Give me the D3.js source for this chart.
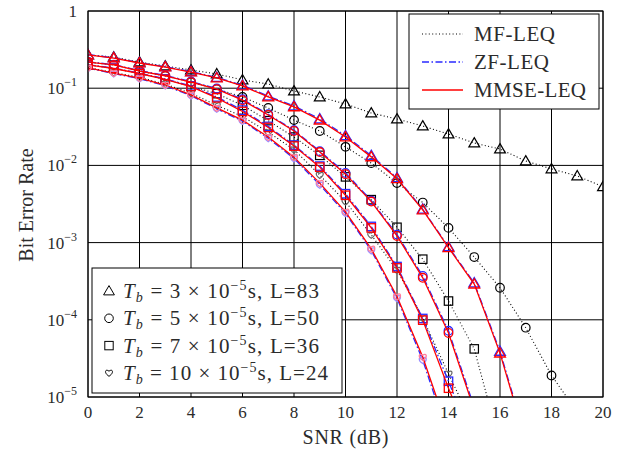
<!DOCTYPE html>
<html>
<head>
<meta charset="utf-8">
<script src="https://cdn.jsdelivr.net/npm/d3@7"></script>
<style>
  body { margin: 0; background: #fff; }
  svg { display: block; }
</style>
</head>
<body>
<div id="chart"></div>
<script>
// SNR axis values (dB)
const snr = [0, 1, 2, 3, 4, 5, 6, 7, 8, 9, 10, 11, 12, 13, 14, 15, 16, 17, 18, 19, 20];

// MF-LEQ (black dotted)
const mfTri = [0.27, 0.253, 0.218, 0.194, 0.172, 0.153, 0.128, 0.113, 0.092, 0.077, 0.0624, 0.0477, 0.0399, 0.0324, 0.0255, 0.0195, 0.0163, 0.0114, 0.009, 0.0073, 0.0053];
const mfCirc = [0.218, 0.2, 0.167, 0.144, 0.12, 0.098, 0.077, 0.0554, 0.0386, 0.0279, 0.0174, 0.0107, 0.0059, 0.0033, 0.00155, 0.00065, 0.00026, 7.9e-5, 1.9e-5, 6.4e-6];
const mfSq = [0.2, 0.18, 0.155, 0.13, 0.106, 0.085, 0.06, 0.038, 0.0233, 0.0135, 0.0071, 0.0036, 0.00158, 0.00061, 0.000175, 4.2e-5, 2.4e-6];
const mfHeart = [0.185, 0.16, 0.138, 0.113, 0.086, 0.06, 0.043, 0.027, 0.016, 0.0075, 0.0034, 0.00126, 0.00044, 0.000105, 2.0e-5, 4e-6];

// ZF-LEQ (blue dash-dot)
const zfTri = [0.272, 0.248, 0.214, 0.19, 0.164, 0.138, 0.109, 0.079, 0.059, 0.04, 0.0242, 0.0134, 0.0069, 0.0027, 0.00088, 0.0003, 3.9e-5, 2.9e-6];
const zfCirc = [0.22, 0.202, 0.169, 0.146, 0.122, 0.099, 0.072, 0.046, 0.0285, 0.0153, 0.008, 0.0035, 0.00127, 0.00037, 7.2e-5, 7.4e-6];
const zfSq = [0.202, 0.182, 0.157, 0.132, 0.107, 0.077, 0.052, 0.032, 0.0183, 0.0098, 0.0043, 0.00162, 0.00049, 0.000104, 1.6e-5, 2.4e-6];
const zfHeart = [0.181, 0.155, 0.133, 0.108, 0.08, 0.054, 0.0375, 0.0225, 0.0123, 0.0056, 0.0024, 0.00079, 0.00019, 3.0e-5, 3.0e-6];

// MMSE-LEQ (red solid)
const mmseTri = [0.27, 0.246, 0.212, 0.188, 0.162, 0.136, 0.107, 0.077, 0.0573, 0.0386, 0.0233, 0.0129, 0.0067, 0.00265, 0.00086, 0.00029, 3.7e-5, 2.7e-6];
const mmseCirc = [0.218, 0.2, 0.167, 0.144, 0.12, 0.097, 0.07, 0.045, 0.0279, 0.0149, 0.0077, 0.0034, 0.00122, 0.00035, 6.75e-5, 6.8e-6];
const mmseSq = [0.2, 0.18, 0.155, 0.13, 0.105, 0.075, 0.05, 0.031, 0.0178, 0.0095, 0.0041, 0.00155, 0.00047, 9.9e-5, 1.3e-5, 2.0e-6];
const mmseHeart = [0.183, 0.157, 0.135, 0.11, 0.082, 0.0555, 0.0386, 0.0233, 0.0128, 0.0059, 0.0025, 0.00083, 0.0002, 3.3e-5, 3.5e-6];

// Ticks and labels
const xTicks = [0, 2, 4, 6, 8, 10, 12, 14, 16, 18, 20];
const yTicks = [1, 1e-1, 1e-2, 1e-3, 1e-4, 1e-5];
const methodNames = ['MF-LEQ', 'ZF-LEQ', 'MMSE-LEQ'];
const tbValues = ['3', '5', '7', '10'];
const lValues = ['83', '50', '36', '24'];

const W = 627, H = 456;
const M = { left: 88, right: 603, top: 11, bottom: 397 };
const FONT = 'Liberation Serif';
const TXT = '#2b2b2b';

const STYLES = {
    mf:   { color: '#000', heart: '#666', dash: '1,2.4', width: 1.1 },
    zf:   { color: '#2a2aff', heart: '#9a8cff', dash: '7,2.5,1.5,2.5', width: 1.3 },
    mmse: { color: '#ff0000', heart: '#ff7c9a', dash: null, width: 1.3 }
};

const series = [
    { m: 'mf', shape: 'tri', v: mfTri }, { m: 'mf', shape: 'circ', v: mfCirc },
    { m: 'mf', shape: 'sq', v: mfSq }, { m: 'mf', shape: 'heart', v: mfHeart },
    { m: 'zf', shape: 'tri', v: zfTri }, { m: 'zf', shape: 'circ', v: zfCirc },
    { m: 'zf', shape: 'sq', v: zfSq }, { m: 'zf', shape: 'heart', v: zfHeart },
    { m: 'mmse', shape: 'tri', v: mmseTri }, { m: 'mmse', shape: 'circ', v: mmseCirc },
    { m: 'mmse', shape: 'sq', v: mmseSq }, { m: 'mmse', shape: 'heart', v: mmseHeart }
];

const x = d3.scaleLinear().domain([0, 20]).range([M.left, M.right]);
const y = d3.scaleLog().domain([1e-5, 1]).range([M.bottom, M.top]);

const svg = d3.select('#chart').append('svg')
    .attr('width', W).attr('height', H)
    .attr('font-family', FONT);

svg.append('clipPath').attr('id', 'clip')
    .append('rect').attr('x', M.left).attr('y', M.top)
    .attr('width', M.right - M.left).attr('height', M.bottom - M.top);

// grid
const grid = svg.append('g');
grid.selectAll('.vg').data(xTicks).enter().append('line')
    .attr('x1', d => x(d)).attr('x2', d => x(d))
    .attr('y1', M.top).attr('y2', M.bottom)
    .attr('stroke', '#000').attr('stroke-width', 1);
grid.selectAll('.hg').data(yTicks).enter().append('line')
    .attr('x1', M.left).attr('x2', M.right)
    .attr('y1', d => y(d)).attr('y2', d => y(d))
    .attr('stroke', '#000').attr('stroke-width', 1);

// marker shapes
function drawMarker(g, shape, cx, cy, color, sw) {
    let el;
    if (shape === 'tri') {
        const s = 5.4;
        el = g.append('path').attr('d', `M ${cx} ${cy - s} L ${cx + s} ${cy + s * 0.72} L ${cx - s} ${cy + s * 0.72} Z`);
    } else if (shape === 'circ') {
        el = g.append('circle').attr('cx', cx).attr('cy', cy).attr('r', 4.3);
    } else if (shape === 'sq') {
        el = g.append('rect').attr('x', cx - 4.2).attr('y', cy - 4.2).attr('width', 8.4).attr('height', 8.4);
    } else {
        const p = d3.path();
        const s = 3.4;
        p.moveTo(cx, cy + s);
        p.bezierCurveTo(cx - s * 1.6, cy, cx - s * 1.1, cy - s * 1.4, cx, cy - s * 0.5);
        p.bezierCurveTo(cx + s * 1.1, cy - s * 1.4, cx + s * 1.6, cy, cx, cy + s);
        p.closePath();
        el = g.append('path').attr('d', p.toString());
    }
    el.attr('fill', 'none').attr('stroke', color).attr('stroke-width', sw);
}

const plot = svg.append('g').attr('clip-path', 'url(#clip)');
const line = d3.line()
    .defined(d => d[1] != null)
    .x(d => x(d[0])).y(d => y(d[1]));

series.forEach(s => {
    const st = STYLES[s.m];
    const pts = s.v.map((v, i) => [snr[i], v]);
    plot.append('path')
        .attr('d', line(pts))
        .attr('fill', 'none')
        .attr('stroke', st.color)
        .attr('stroke-width', st.width)
        .attr('stroke-dasharray', st.dash);
    const mg = plot.append('g');
    pts.forEach(p => {
        const c = s.shape === 'heart' ? st.heart : st.color;
        drawMarker(mg, s.shape, x(p[0]), y(p[1]), c, s.m === 'mf' ? 1.2 : 1.3);
    });
});

// frame
svg.append('rect').attr('x', M.left).attr('y', M.top)
    .attr('width', M.right - M.left).attr('height', M.bottom - M.top)
    .attr('fill', 'none').attr('stroke', '#000').attr('stroke-width', 1);

// x tick labels
svg.selectAll('.xl').data(xTicks).enter().append('text')
    .attr('x', d => x(d)).attr('y', 418)
    .attr('text-anchor', 'middle').attr('fill', TXT).style('font-size', '17px')
    .text(d => d);

// y tick labels
yTicks.forEach(t => {
    const e = Math.round(Math.log10(t));
    const tx = svg.append('text').attr('x', 77).attr('y', y(t) + 6)
        .attr('text-anchor', 'end').attr('fill', TXT).style('font-size', '17px');
    if (e === 0) {
        tx.text('1');
    } else {
        tx.append('tspan').text('10');
        tx.append('tspan').attr('dy', -8).style('font-size', '12px').text('\u2212' + (-e));
    }
});

// axis titles
svg.append('text').attr('x', (M.left + M.right) / 2).attr('y', 444)
    .attr('text-anchor', 'middle').attr('fill', TXT).style('font-size', '20px')
    .attr('textLength', 86).text('SNR (dB)');
svg.append('text').attr('transform', 'translate(33,205) rotate(-90)')
    .attr('text-anchor', 'middle').attr('fill', TXT).style('font-size', '20px').text('Bit Error Rate');

// legend: methods
const lg1 = svg.append('g');
lg1.append('rect').attr('x', 409).attr('y', 14).attr('width', 190).attr('height', 95)
    .attr('fill', '#fff').attr('stroke', '#000').attr('stroke-width', 1);
const nameWidths = [81, 75, 112];
['mf', 'zf', 'mmse'].forEach((k, i) => {
    const yy = 34 + i * 28;
    const st = STYLES[k];
    lg1.append('line').attr('x1', 422).attr('x2', 463).attr('y1', yy).attr('y2', yy)
        .attr('stroke', st.color).attr('stroke-width', st.width)
        .attr('stroke-dasharray', st.dash);
    lg1.append('text').attr('x', 474).attr('y', yy + 7).attr('fill', TXT)
        .style('font-size', '21px').attr('textLength', nameWidths[i]).text(methodNames[i]);
});

// legend: symbol periods
const lg2 = svg.append('g');
lg2.append('rect').attr('x', 92).attr('y', 268).attr('width', 250).attr('height', 125)
    .attr('fill', '#fff').attr('stroke', '#000').attr('stroke-width', 1);
const rowWidths = [196, 196, 196, 205];
['tri', 'circ', 'sq', 'heart'].forEach((sh, i) => {
    const yy = 291 + i * 27.3;
    drawMarker(lg2, sh, 109, yy, '#000', 1);
    const t = lg2.append('text').attr('x', 123).attr('y', yy + 7).attr('fill', TXT)
        .style('font-size', '21px')
        .attr('textLength', rowWidths[i]).attr('lengthAdjust', 'spacing');
    t.append('tspan').style('font-style', 'italic').text('T');
    t.append('tspan').attr('dy', 4).style('font-size', '14px').style('font-style', 'italic').text('b');
    t.append('tspan').attr('dy', -4).text(' = ' + tbValues[i] + ' \u00d7 10');
    t.append('tspan').attr('dy', -8).style('font-size', '14px').text('\u22125');
    t.append('tspan').attr('dy', 8).text('s, L=' + lValues[i]);
});
</script>
</body>
</html>
